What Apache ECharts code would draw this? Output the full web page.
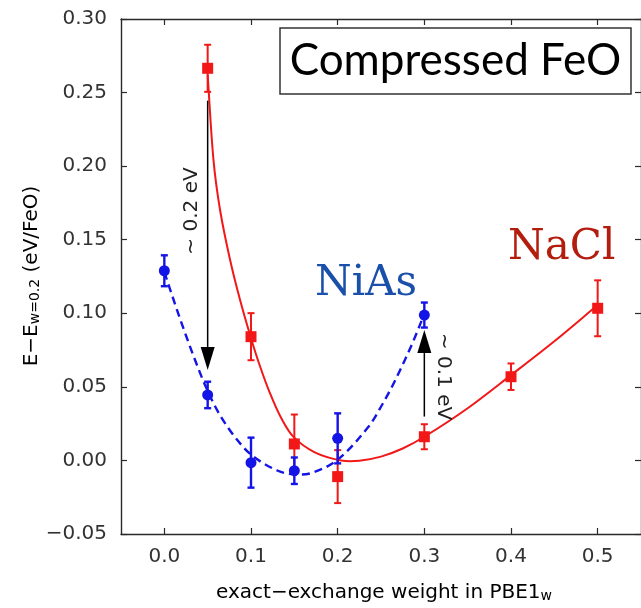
<!DOCTYPE html>
<html><head><meta charset="utf-8">
<script src="https://cdn.jsdelivr.net/npm/echarts@6/dist/echarts.min.js"></script>
<style>html,body{margin:0;padding:0;background:#fff}#c{width:641px;height:608px}</style>
</head><body><div id="c"></div>
<script>
// ---- data ----
const xTicks = [0, 0.1, 0.2, 0.3, 0.4, 0.5];
const naclX = [0.05, 0.1, 0.15, 0.2, 0.3, 0.4, 0.5];
const naclY = [0.2665, 0.0841, 0.0112, -0.011, 0.0161, 0.0569, 0.1034];
const naclErr = [0.016, 0.016, 0.020, 0.018, 0.0085, 0.009, 0.019];
const niasX = [0, 0.05, 0.1, 0.15, 0.2, 0.3];
const niasY = [0.1289, 0.0445, -0.0015, -0.007, 0.015, 0.0988];
const niasErr = [0.0105, 0.009, 0.017, 0.009, 0.017, 0.0085];
const naclFitX = [0.05, 0.0567, 0.0643, 0.0759, 0.0874, 0.0995, 0.110, 0.122, 0.135, 0.149, 0.1736, 0.204, 0.225, 0.25, 0.275, 0.30, 0.35, 0.40, 0.45, 0.50];
const naclFitY = [0.262, 0.2042, 0.1702, 0.1362, 0.109, 0.0841, 0.0647, 0.0455, 0.0286, 0.0160, 0.0055, 0.0000, -0.0002, 0.0026, 0.0081, 0.0161, 0.0355, 0.0580, 0.0810, 0.1056];
const niasFitX = [0, 0.018, 0.034, 0.049, 0.064, 0.084, 0.103, 0.131, 0.150, 0.170, 0.200, 0.235, 0.250, 0.266, 0.285, 0.300];
const niasFitY = [0.128, 0.0965, 0.0705, 0.0485, 0.0310, 0.0140, 0.0025, -0.0070, -0.0095, -0.0085, 0.0005, 0.0225, 0.0365, 0.0540, 0.0780, 0.0995];
const arrowX = [0.05, 0.3];
const arrowFrom = [0.2445, 0.0298];
const arrowTo = [0.0615, 0.0886];
const arrowLabels = ['~ 0.2 eV', '~ 0.1 eV'];
const seriesNames = ['NaCl', 'NiAs'];
const titleText = 'Compressed FeO';

// ---- styles ----
const FONT = 'DejaVu Sans';
const RED = '#f21818', BLUE = '#1414e6', AX = '#2a2a2a', TXT = '#333';

function pairs(xs, ys) { return xs.map((x, i) => [x, ys[i]]); }
function errData(xs, ys, es) { return xs.map((x, i) => [x, ys[i] - es[i], ys[i] + es[i]]); }
function errRender(color, lw) {
  return function (params, api) {
    const x = api.value(0), lo = api.value(1), hi = api.value(2);
    const a = api.coord([x, hi]), b = api.coord([x, lo]);
    const c = 3.5, st = { stroke: color, lineWidth: lw };
    return { type: 'group', children: [
      { type: 'line', shape: { x1: a[0], y1: a[1], x2: b[0], y2: b[1] }, style: st },
      { type: 'line', shape: { x1: a[0] - c, y1: a[1], x2: a[0] + c, y2: a[1] }, style: st },
      { type: 'line', shape: { x1: b[0] - c, y1: b[1], x2: b[0] + c, y2: b[1] }, style: st }
    ]};
  };
}
// smooth curve through the read points (chord-length scaled tangents), drawn once
function curveRender(xs, ys, style) {
  return function (params, api) {
    if (params.dataIndex !== 0) return null;
    const P = xs.map((x, i) => api.coord([x, ys[i]]));
    const n = P.length;
    const sub = (a, b) => [a[0] - b[0], a[1] - b[1]];
    const len = v => Math.hypot(v[0], v[1]) || 1;
    const tan = i => {
      const v = sub(P[Math.min(i + 1, n - 1)], P[Math.max(i - 1, 0)]);
      const l = len(v); return [v[0] / l, v[1] / l];
    };
    let d = 'M' + P[0][0] + ' ' + P[0][1];
    for (let i = 0; i < n - 1; i++) {
      const seg = len(sub(P[i + 1], P[i])) / 3;
      const t1 = tan(i), t2 = tan(i + 1);
      const c1 = [P[i][0] + t1[0] * seg, P[i][1] + t1[1] * seg];
      const c2 = [P[i + 1][0] - t2[0] * seg, P[i + 1][1] - t2[1] * seg];
      d += ' C' + c1[0] + ' ' + c1[1] + ' ' + c2[0] + ' ' + c2[1] + ' ' + P[i + 1][0] + ' ' + P[i + 1][1];
    }
    return { type: 'path', shape: { pathData: d }, style: Object.assign({ fill: null }, style) };
  };
}
function arrowRender(params, api) {
  const x = api.value(0);
  const p0 = api.coord([x, api.value(1)]), p1 = api.coord([x, api.value(2)]);
  const dir = p1[1] > p0[1] ? 1 : -1, hl = 23, hw = 7;
  const by = p1[1] - dir * hl;
  return { type: 'group', children: [
    { type: 'line', shape: { x1: p0[0], y1: p0[1], x2: p0[0], y2: by }, style: { stroke: '#000', lineWidth: 1.5 } },
    { type: 'polygon', shape: { points: [[p1[0], p1[1]], [p1[0] - hw, by], [p1[0] + hw, by]] }, style: { fill: '#000' } }
  ]};
}

const axisCommon = {
  type: 'value', min: -0.05, max: 0.55,
  axisLine: { show: true, onZero: false, lineStyle: { color: AX, width: 1.4 } },
  axisTick: { show: true, inside: true, length: 6, customValues: xTicks, lineStyle: { color: AX, width: 1.2 } },
  splitLine: { show: false }
};

const chart = echarts.init(document.getElementById('c'));
chart.setOption({
  animation: false,
  backgroundColor: '#fff',
  textStyle: { fontFamily: FONT },
  grid: { left: 121, top: 19, right: -3.5, bottom: 74, containLabel: false },
  xAxis: [
    Object.assign({}, axisCommon, { position: 'bottom',
      axisLabel: { show: true, customValues: xTicks, margin: 13, fontSize: 20, color: TXT, fontFamily: FONT,
        formatter: v => v.toFixed(1) } }),
    Object.assign({}, axisCommon, { position: 'top', axisLabel: { show: false } })
  ],
  yAxis: [
    { type: 'value', min: -0.05, max: 0.30, interval: 0.05, position: 'left',
      axisLine: { show: true, onZero: false, lineStyle: { color: AX, width: 1.4 } },
      axisTick: { show: true, inside: true, length: 6, lineStyle: { color: AX, width: 1.2 } },
      axisLabel: { margin: 14, fontSize: 20, color: TXT, fontFamily: FONT,
        formatter: v => (v < -1e-9 ? '\u2212' : '') + Math.abs(v).toFixed(2) },
      splitLine: { show: false } },
    { type: 'value', min: -0.05, max: 0.30, interval: 0.05, position: 'right',
      axisLine: { show: true, onZero: false, lineStyle: { color: AX, width: 1.4 } },
      axisTick: { show: true, inside: true, length: 6, lineStyle: { color: AX, width: 1.2 } },
      axisLabel: { show: false }, splitLine: { show: false } }
  ],
  series: [
    { name: seriesNames[1] + ' fit', type: 'custom', data: pairs(niasFitX, niasFitY), encode: { x: 0, y: 1 },
      renderItem: curveRender(niasFitX, niasFitY, { stroke: BLUE, lineWidth: 2.4, lineDash: [8, 5] }), z: 2 },
    { name: seriesNames[0] + ' fit', type: 'custom', data: pairs(naclFitX, naclFitY), encode: { x: 0, y: 1 },
      renderItem: curveRender(naclFitX, naclFitY, { stroke: RED, lineWidth: 2 }), z: 2 },
    { type: 'custom', renderItem: arrowRender, data: arrowX.map((x, i) => [x, arrowFrom[i], arrowTo[i]]),
      encode: { x: 0, y: [1, 2] }, z: 3 },
    { type: 'custom', renderItem: errRender(RED, 2), data: errData(naclX, naclY, naclErr), encode: { x: 0, y: [1, 2] }, z: 4 },
    { type: 'custom', renderItem: errRender(BLUE, 2.4), data: errData(niasX, niasY, niasErr), encode: { x: 0, y: [1, 2] }, z: 4 },
    { name: seriesNames[0], type: 'scatter', data: pairs(naclX, naclY), symbol: 'rect', symbolSize: 11,
      itemStyle: { color: RED, opacity: 1 }, z: 5 },
    { name: seriesNames[1], type: 'scatter', data: pairs(niasX, niasY), symbol: 'circle', symbolSize: 11,
      itemStyle: { color: BLUE, opacity: 1 }, z: 5 }
  ],
  graphic: [
    { type: 'rect', shape: { x: 280, y: 28, width: 351, height: 66 }, style: { fill: '#fff', stroke: '#333', lineWidth: 1.5 }, z: 10 },
    { type: 'text', x: 455.5, y: 61, z: 11, style: { text: titleText, font: '44px Lato', fill: '#000', align: 'center', verticalAlign: 'middle' } },
    { type: 'text', x: 315, y: 284, z: 11, style: { text: seriesNames[1], font: '42px "DejaVu Serif"', fill: '#1a4faa', align: 'left', verticalAlign: 'middle' } },
    { type: 'text', x: 508, y: 248, z: 11, style: { text: seriesNames[0], font: '42px "DejaVu Serif"', fill: '#b31d0e', align: 'left', verticalAlign: 'middle' } },
    { type: 'text', x: 191.5, y: 211, rotation: Math.PI / 2, z: 11, style: { text: arrowLabels[0], font: '20px "DejaVu Sans"', fill: '#222', align: 'center', verticalAlign: 'middle' } },
    { type: 'text', x: 443.5, y: 376.5, rotation: -Math.PI / 2, z: 11, style: { text: arrowLabels[1], font: '20px "DejaVu Sans"', fill: '#222', align: 'center', verticalAlign: 'middle' } },
    { type: 'text', x: 384, y: 593, z: 11, style: {
        text: '{m|exact\u2212exchange weight in PBE1}{s|w}', align: 'center', verticalAlign: 'middle',
        rich: { m: { fontSize: 20, fontFamily: FONT, color: TXT, lineHeight: 20, verticalAlign: 'top' },
                s: { fontSize: 14, fontFamily: FONT, color: TXT, lineHeight: 14, padding: [10, 0, 0, 0], verticalAlign: 'bottom' } } } },
    { type: 'text', x: 32, y: 276, rotation: Math.PI / 2, z: 11, style: {
        text: '{m|E\u2212E}{s|w=0.2}{m| (eV/FeO)}', align: 'center', verticalAlign: 'middle',
        rich: { m: { fontSize: 20, fontFamily: FONT, color: TXT, lineHeight: 20, verticalAlign: 'top' },
                s: { fontSize: 14, fontFamily: FONT, color: TXT, lineHeight: 14, padding: [10, 0, 0, 0], verticalAlign: 'bottom' } } } }
  ]
});
</script></body></html>
